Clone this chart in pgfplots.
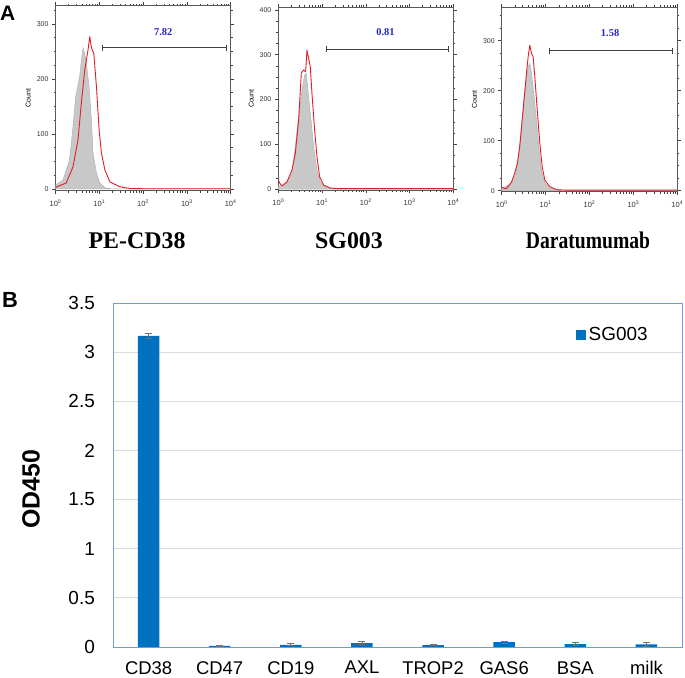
\documentclass[border=0pt]{standalone}
\usepackage{pgfplots}
\pgfplotsset{compat=1.18}
\usepackage{pgfplotstable}
\usepackage{fontspec}
\setmainfont{Liberation Sans}
\newfontfamily\timesfont{Liberation Serif}
\definecolor{histred}{RGB}{225,30,35}
\definecolor{histgray}{RGB}{200,200,200}
\definecolor{histedge}{RGB}{178,178,178}
\definecolor{gateblue}{RGB}{35,35,200}
\definecolor{barblue}{RGB}{0,112,192}
\definecolor{frameblue}{RGB}{110,155,230}
\definecolor{gridgray}{RGB}{220,220,220}

% Flow histograms: x in decades (log10 of fluorescence), y = count
\pgfplotstableread{
lx y
0 7
0.17 16
0.32 53
0.40 113
0.46 167
0.55 204
0.60 240
0.63 256
0.67 245
0.705 229
0.766 186
0.82 125
0.858 65
0.935 29
1.01 11
1.13 2
1.3 0
4 0
}\grayA
\pgfplotstableread{
lx y
0 3
0.245 11
0.398 40
0.513 89
0.59 156
0.667 216
0.743 253
0.782 277
0.81 262
0.835 253
0.874 247
0.935 186
0.996 107
1.05 65
1.126 35
1.241 13
1.471 4
1.70 1
2.0 0.5
4 0.5
}\redA
\pgfplotstableread{
lx y
0 5
0.198 13
0.312 36
0.389 95
0.465 162
0.541 221
0.602 255
0.64 258
0.693 206
0.747 154
0.808 95
0.884 42
0.96 16
1.074 5
1.19 2
1.4 0
4 0
}\grayB
\pgfplotstableread{
lx y
0 20
0.04 12
0.084 7
0.198 16
0.312 42
0.389 80
0.465 154
0.526 259
0.579 266
0.625 262
0.655 310
0.693 292
0.731 273
0.769 214
0.83 132
0.884 72
0.945 27
1.036 9
1.19 2
1.34 1
4 1
}\redB
\pgfplotstableread{
lx y
0 4
0.03 5
0.221 15
0.297 28
0.373 61
0.45 128
0.526 201
0.602 248
0.64 255
0.678 235
0.739 188
0.792 141
0.846 88
0.907 41
0.983 15
1.097 5
1.25 2
1.4 0
4 0
}\grayC
\pgfplotstableread{
lx y
0 7
0.05 5
0.107 4
0.221 17
0.297 35
0.358 55
0.411 88
0.487 161
0.564 235
0.602 268
0.64 291
0.678 275
0.716 268
0.754 228
0.815 155
0.869 95
0.922 48
0.983 21
1.097 8
1.25 2
1.5 1
4 1
}\redC
% ELISA
\pgfplotstableread{
x y e
0 3.165 0.025
1 0.012 0.005
2 0.022 0.010
3 0.040 0.015
4 0.020 0.008
5 0.050 0.010
6 0.030 0.012
7 0.027 0.020
}\barsB

\pgfplotsset{
  flow/.style={
    scale only axis, anchor=south west,
    xmin=0, xmax=4,
    xtick={0,1,2,3,4},
    xticklabels={10\textsuperscript{0},10\textsuperscript{1},10\textsuperscript{2},10\textsuperscript{3},10\textsuperscript{4}},
    minor xtick={0.301,0.477,0.602,0.699,0.778,0.845,0.903,0.954,
                 1.301,1.477,1.602,1.699,1.778,1.845,1.903,1.954,
                 2.301,2.477,2.602,2.699,2.778,2.845,2.903,2.954,
                 3.301,3.477,3.602,3.699,3.778,3.845,3.903,3.954},
    minor ytick={0,25,...,400},
    tick align=outside,
    major tick length=3.5bp, minor tick length=2bp,
    every tick/.style={black!75, line width=0.6bp},
    axis line style={black!65, line width=0.8bp},
    /pgf/number format/assume math mode=true,
    ticklabel style={font=\fontsize{7}{8}\selectfont, text=black!80},
    xticklabel style={font=\fontsize{7.5}{8}\selectfont, yshift=-2bp},
    ylabel={Count},
    ylabel style={font=\fontsize{7}{8}\selectfont, at={(axis description cs:-0.155,0.5)}, anchor=center},
  },
  grayh/.style={fill=histgray, draw=histedge, line width=0.5bp},
  redh/.style={draw=histred, line width=0.9bp, line join=round},
  gate/.style={black!75, line width=0.9bp, mark=|, mark size=3bp, mark options={solid, line width=0.9bp}},
}

\begin{document}
\begin{tikzpicture}
\useasboundingbox (0,0) rectangle (685bp,678bp);

% ---------------- Panel A ----------------
\node[font=\bfseries\fontsize{21}{21}\selectfont, anchor=north west, inner sep=0pt] at (0bp,672bp) {A};

\begin{axis}[flow, at={(55.5bp,487.35bp)}, width=175.2bp, height=184.8bp,
  ymin=-3, ymax=333, ytick={0,100,200,300}]
  \addplot[grayh] table[x=lx,y=y] {\grayA} \closedcycle;
  \addplot[redh] table[x=lx,y=y] {\redA};
  \addplot[gate] coordinates {(1.065,257) (3.90,257)};
  \node[font=\timesfont\bfseries\fontsize{10.5}{10.5}\selectfont, text=gateblue] at (axis cs:2.46,286) {7.82};
\end{axis}

\begin{axis}[flow, at={(278.3bp,488bp)}, width=175bp, height=182.7bp,
  ymin=-2.2, ymax=406, ytick={0,100,200,300,400}]
  \addplot[grayh] table[x=lx,y=y] {\grayB} \closedcycle;
  \addplot[redh] table[x=lx,y=y] {\redB};
  \addplot[gate] coordinates {(1.09,312) (3.90,312)};
  \node[font=\timesfont\bfseries\fontsize{10.5}{10.5}\selectfont, text=gateblue] at (axis cs:2.45,350) {0.81};
\end{axis}

\begin{axis}[flow, at={(501.7bp,486.3bp)}, width=175.6bp, height=184.4bp,
  ymin=-2, ymax=367, ytick={0,100,200,300}]
  \addplot[grayh] table[x=lx,y=y] {\grayC} \closedcycle;
  \addplot[redh] table[x=lx,y=y] {\redC};
  \addplot[gate] coordinates {(1.08,280) (3.88,280)};
  \node[font=\timesfont\bfseries\fontsize{10.5}{10.5}\selectfont, text=gateblue] at (axis cs:2.47,315) {1.58};
\end{axis}

\node[font=\timesfont\bfseries\fontsize{24}{24}\selectfont, anchor=base] at (137bp,429bp) {PE-CD38};
\node[font=\timesfont\bfseries\fontsize{24}{24}\selectfont, anchor=base] at (349bp,429bp) {SG003};
\node[font=\timesfont\bfseries\fontsize{24}{24}\selectfont, anchor=base] at (588bp,429bp) {\scalebox{0.82}[1]{Daratumumab}};

% ---------------- Panel B ----------------
\node[font=\bfseries\fontsize{22}{22}\selectfont, anchor=north west, inner sep=0pt] at (2bp,386bp) {B};

\begin{axis}[
  at={(113bp,31bp)}, anchor=south west,
  width=569bp, height=344bp, scale only axis,
  xmin=-0.5, xmax=7.5, ymin=0, ymax=3.5,
  xtick={0,1,2,3,4,5,6,7},
  xticklabels={CD38,CD47,CD19,AXL,TROP2,GAS6,BSA,milk},
  ytick={0,0.5,1,1.5,2,2.5,3,3.5},
  major tick length=0pt,
  ymajorgrids, grid style={gridgray, line width=0.9bp},
  axis line style={frameblue, line width=0.9bp},
  /pgf/number format/assume math mode=true,
  ticklabel style={font=\fontsize{19}{22}\selectfont, text=black},
  yticklabel style={anchor=east, inner sep=0pt, xshift=-18bp},
  xticklabel style={font=\fontsize{18.5}{20}\selectfont, anchor=north, inner sep=0pt, yshift=-14bp},
  legend style={at={(0.8137,0.908)}, anchor=west, draw=none, fill=none,
    font=\fontsize{19}{22}\selectfont, inner sep=0pt,
    nodes={inner sep=2.5bp}},
]
  \addplot[ybar, bar width=21.6bp, fill=barblue, draw=none,
    legend image code/.code={\fill[barblue] (0bp,-5bp) rectangle (10bp,5bp);},
    error bars/.cd, y dir=both, y explicit,
    error bar style={color=black!55, line width=0.8bp},
    error mark options={rotate=90, mark size=3.5bp, color=black!55, line width=0.8bp}]
    table[x=x, y=y, y error=e] {\barsB};
  \addlegendentry{SG003}
\end{axis}

\node[font=\bfseries\fontsize{25}{25}\selectfont, rotate=90] at (31bp,189bp) {OD450};

\end{tikzpicture}
\end{document}
